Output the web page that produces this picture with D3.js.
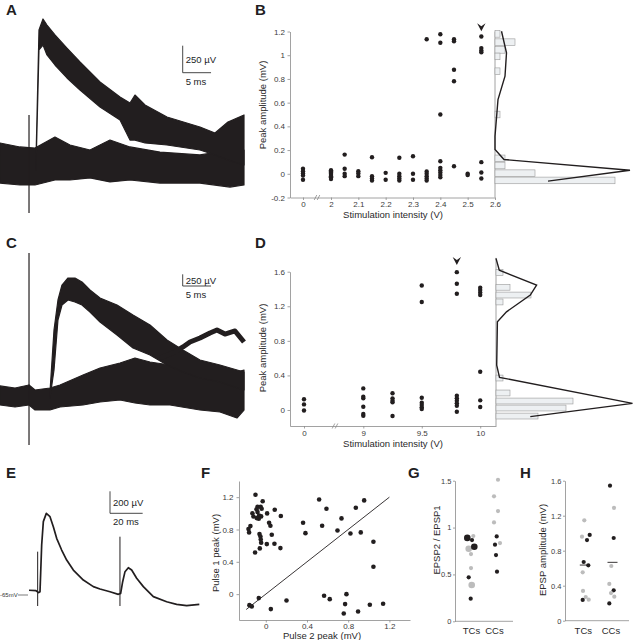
<!DOCTYPE html>
<html>
<head>
<meta charset="utf-8">
<script src="https://cdn.jsdelivr.net/npm/d3@7"></script>
<style>
  body { margin: 0; background: #fff; }
  text { font-family: "Liberation Sans", Arial, sans-serif; }
</style>
</head>
<body>
<svg id="fig" width="633" height="640"></svg>
<script>
// ---------- A: traces, [ms, low µV, high µV] envelopes ----------
const aLarge = [[6.35,-46,46],[6.88,1065,1250],[7.59,1111,1352],[8.29,1019,1296],[9.70,926,1204],
  [11.82,806,1083],[14.12,694,954],[17.65,537,769],[21.18,417,630],[22.94,231,574],[23.82,231,648],
  [25.59,204,556],[29.47,185,444],[35.29,139,352],[37.94,93,296],[40.23,46,398],[43.06,0,463]];
const aSmall = [[0,-167,204],[3.53,-185,167],[6.18,-185,157],[9.70,-139,259],[12.35,-139,185],
  [15.88,-120,139],[19.41,-157,231],[22.94,-139,167],[28.23,-167,120],[35.29,-167,93],
  [40.59,-204,139],[43.06,-185,139]];
const aStim = [5.12, -444, 463];

// ---------- C ----------
const cPre = [[0,-214,193],[2.65,-256,150],[5.12,-214,214]];
const cSmall = [[5.12,-214,214],[6.18,-321,107],[8.82,-321,150],[10.59,-256,214],[14.65,-214,427],
  [17.65,-150,577],[21.18,-107,684],[23.82,-171,791],[26.47,-214,705],[30,-214,641],[35.29,-321,577],
  [38.82,-363,534],[41.82,-491,491],[43.06,-321,534]];
const cLarge = [[8.82,-64,64],[9.53,534,1389],[10.23,1603,2030],[10.94,1923,2350],[12,2030,2500],
  [13.23,1987,2500],[14.47,1923,2415],[15.88,1774,2244],[17.65,1560,2073],[20.65,1282,1923],
  [23.47,1004,1709],[26.47,855,1496],[29.47,641,1175],[32.29,491,962],[35.29,363,748],
  [38.82,278,641],[43.06,107,491]];
const cLate = [[28.23,791],[30.88,919],[32.29,1026],[33.53,1132],[35.29,1218],[37.06,1325],
  [38.29,1389],[39.7,1303],[41.47,1368],[43.06,1132]];
const cStim = [5.12, -1068, 3034];

// ---------- E: paired pulse trace [ms, µV above -65 mV] ----------
const eTrace = [[0,43],[4.29,39],[5.92,21],[6.74,30],[7.76,455],[8.78,667],[10.61,742],[12.86,712],
  [14.9,621],[16.94,515],[20,409],[23.07,318],[27.15,227],[33.27,136],[39.4,76],[43.48,55],
  [49.6,30],[54.7,6],[56.13,15],[57.36,121],[58.79,212],[60.83,248],[62.87,227],[65.93,152],
  [70.02,76],[76.14,-15],[84.3,-61],[90.43,-85],[96.55,-97],[104.3,-85]];
const eStims = [[5.31,-100,394],[55.7,-100,530]];

// ---------- B ----------
const bStim = [0, 2, 2.05, 2.1, 2.15, 2.2, 2.25, 2.3, 2.35, 2.4, 2.45, 2.5, 2.55];
const bPeaks = [
  [0.042, 0.022, 0.002, -0.015, -0.05],
  [0.03, 0.02, 0.01, 0, -0.01, -0.02, -0.03, -0.045],
  [0.162, 0.042, 0, -0.02],
  [0.022, 0.003, -0.02],
  [0.14, -0.02, -0.04, -0.056],
  [0.008, -0.05],
  [0.135, 0.0, -0.02, -0.04, -0.056],
  [0.148, 0.0, -0.05],
  [1.135, 0.02, 0.0, -0.02, -0.04, -0.056],
  [1.177, 1.105, 0.50, 0.106, 0.05, 0.03, 0.01, -0.01, -0.03],
  [1.135, 1.118, 0.877, 0.78, 0.064],
  [0.0, -0.01],
  [1.158, 1.06, 1.04, 1.025, 0.098, 0.011, -0.04]
];
const bTicksX = [0, 2, 2.1, 2.2, 2.3, 2.4, 2.5, 2.6];
const bTicksY = [-0.2, 0, 0.2, 0.4, 0.6, 0.8, 1, 1.2];
const bHistMv = [1.18, 1.11, 1.045, 0.99, 0.865, 0.50, 0.13, 0.07, 0.005, -0.056];
const bHistN = [1, 4, 2, 1, 1, 1, 2, 2, 8, 24];
const bCurveMv = [1.202, 1.02, 0.823, 0.626, 0.317, 0.205, 0.12, 0.03, -0.062];
const bCurveN = [1.3, 2.3, 2.0, 0.6, 0, 0, 1.8, 27, 10.6];
const bArrow = [2.55, 1.27];

// ---------- D ----------
const dStim = [0, 9, 9.25, 9.5, 9.8, 10];
const dPeaks = [
  [0.125, 0.065, -0.005],
  [0.25, 0.154, 0.135, 0.038, -0.046, -0.066],
  [0.193, 0.135, 0.108, 0.089, -0.07],
  [1.44, 1.25, 0.142, 0.084, 0.058, 0.031, 0.012],
  [1.595, 1.46, 1.345, 0.165, 0.135, 0.108, 0.077, 0.05, -0.02],
  [1.414, 1.387, 1.36, 1.33, 0.443, 0.112, 0.035]
];
const dTicksX = [0, 9, 9.5, 10];
const dTicksY = [0, 0.4, 0.8, 1.2, 1.6];
const dHistMv = [1.59, 1.42, 1.33, 1.25, 0.37, 0.197, 0.104, 0.023, -0.07];
const dHistN = [1, 2, 5, 1, 1, 2, 11, 10, 6];
const dCurveMv = [1.754, 1.618, 1.445, 1.33, 1.136, 1.02, 0.52, 0.378, 0.077, -0.077];
const dCurveN = [0, 0.47, 5.8, 4.9, 1.5, 0.2, 0.1, 0.5, 19.5, 4.9];
const dArrow = [9.8, 1.77];

// ---------- F ----------
const fPulse2 = [-0.10,-0.03,-0.08,-0.09,-0.05,-0.04,-0.13,-0.12,-0.08,-0.065,-0.045,-0.068,-0.088,0.013,
  0.087,0.146,0.032,0.045,-0.149,-0.168,-0.162,-0.061,-0.052,-0.049,-0.045,0.058,0.01,0.084,-0.058,-0.104,
  0.142,0.518,0.589,0.874,0.955,0.362,0.547,0.385,0.696,0.735,0.822,0.922,1.045,1.045,-0.068,-0.159,
  -0.136,0.049,0.201,0.566,0.621,0.783,0.770,0.757,0.896,1.010,1.139];
const fPulse1 = [1.23,1.15,1.08,1.05,1.08,1.056,1.0,0.96,1.015,0.974,0.962,0.933,0.941,0.999,
  1.044,0.966,0.883,0.846,0.842,0.805,0.764,0.743,0.714,0.677,0.636,0.735,0.619,0.623,0.566,0.516,
  0.570,1.172,1.057,1.069,1.160,0.883,0.846,0.755,0.788,0.937,0.751,0.764,0.648,0.339,-0.049,-0.136,
  -0.152,-0.185,-0.078,-0.02,-0.062,0.0,-0.123,-0.239,-0.214,-0.132,-0.119];
const fUnity = [[-0.19, -0.19], [1.2, 1.2]];
const fTicks = [0, 0.4, 0.8, 1.2];

// ---------- G ----------
const groups = ["TCs", "CCs"];
const gTcs = [0.89, 0.867, 0.91, 0.774, 0.795, 0.717, 0.568, 0.469, 0.387, 0.241];
const gTcsKind = ["kb", "k", "g", "gb", "kb", "g", "g", "k", "gb", "k"];
const gTcsDx = [-4.2, 0.5, 1.8, -2.8, 2.8, -0.5, -0.5, -2.8, 0.2, -0.8];
const gCcs = [1.51, 1.333, 1.176, 1.055, 0.906, 0.835, 0.817, 0.707, 0.529];
const gCcsKind = ["g", "g", "g", "g", "k", "g", "k", "k", "k"];
const gCcsDx = [3.5, -0.5, 3.5, -0.5, 2.2, 5.5, 0.5, 1.5, 2.5];
const gTicks = [0, 0.5, 1, 1.5];

// ---------- H ----------
const hTcs = [1.147, 0.96, 0.98, 0.922, 0.671, 0.633, 0.553, 0.34, 0.271, 0.24, 0.237];
const hTcsKind = ["g", "g", "k", "k", "k", "k", "g", "g", "g", "g", "k"];
const hTcsDx = [1, -1.3, 6.4, 3.7, 0.4, 5, -0.6, -0.3, 2.4, 5.4, -0.6];
const hCcs = [1.543, 1.29, 0.945, 0.625, 0.42, 0.347, 0.316, 0.275, 0.198];
const hCcsKind = ["k", "g", "k", "g", "g", "k", "g", "g", "k"];
const hCcsDx = [-1, 3, 2.7, 0.3, -1.7, 2.7, 0, 3.3, -1.7];
const hMeans = [0.636, 0.667];
const hTicks = [0, 0.4, 0.8, 1.2, 1.6];

const svg = d3.select("#fig");
const ink = "#221e1f", grey = "#bcbcbc", axisCol = "#8a8a8a";
const fmt = d => String(+(+d).toFixed(2));

function panelLabel(t, x, y) {
  svg.append("text").attr("x", x).attr("y", y).attr("font-size", 15)
    .attr("font-weight", "bold").attr("fill", ink).text(t);
}
function styleAxis(g, size) {
  g.attr("font-family", "Liberation Sans, Arial, sans-serif").attr("font-size", size || 8);
  g.selectAll("path, line").attr("stroke", axisCol).attr("stroke-width", 0.8);
  g.selectAll("text").attr("fill", "#3c3c3c");
  return g;
}
function axisTitle(t, x, y, rotate) {
  svg.append("text")
    .attr("transform", `translate(${x},${y})` + (rotate ? " rotate(-90)" : ""))
    .attr("text-anchor", "middle").attr("font-size", 9.5).attr("fill", "#2a2a2a").text(t);
}
function band(data, x, y) {
  svg.append("path").datum(data)
    .attr("d", d3.area().x(d => x(d[0])).y0(d => y(d[1])).y1(d => y(d[2])))
    .attr("fill", ink).attr("stroke", ink).attr("stroke-width", 1.2).attr("stroke-linejoin", "round");
}
function stim(s, x, y, w) {
  svg.append("line").attr("x1", x(s[0])).attr("x2", x(s[0]))
    .attr("y1", y(s[1])).attr("y2", y(s[2])).attr("stroke", ink).attr("stroke-width", w);
}
function scaleBar(x, y, x0, y0, ms, uv) {
  const g = svg.append("g");
  const dx = x(ms) - x(0), dy = y(0) - y(uv);
  g.append("path").attr("d", `M${x0},${y0 - dy}V${y0}H${x0 + dx}`)
    .attr("fill", "none").attr("stroke", "#333").attr("stroke-width", 0.9);
  g.append("text").attr("x", x0 + 3).attr("y", y0 - dy / 2 + 3.5).attr("font-size", 9.5)
    .attr("fill", ink).text(uv + " \u00b5V");
  g.append("text").attr("x", x0 + 3).attr("y", y0 + 12).attr("font-size", 9.5)
    .attr("fill", ink).text(ms + " ms");
}

// ===== A =====
panelLabel("A", 6, 15);
const xA = d3.scaleLinear().domain([0, 43.06]).range([0, 244]);
const yA = d3.scaleLinear().domain([0, 1000]).range([165, 57]);
band(aSmall, xA, yA);
band(aLarge, xA, yA);
stim(aStim, xA, yA, 1.2);
scaleBar(xA, yA, 182.7, 72.7, 5, 250);

// ===== C =====
panelLabel("C", 6, 248);
const xC = d3.scaleLinear().domain([0, 43.06]).range([0, 244]);
const yC = d3.scaleLinear().domain([0, 1000]).range([395, 348.2]);
band(cPre, xC, yC);
band(cSmall, xC, yC);
band(cLarge, xC, yC);
svg.append("path").datum(cLate)
  .attr("d", d3.line().x(d => xC(d[0])).y(d => yC(d[1])))
  .attr("fill", "none").attr("stroke", ink).attr("stroke-width", 5).attr("stroke-linejoin", "round");
stim(cStim, xC, yC, 1.2);
scaleBar(xC, yC, 182.7, 286, 5, 250);

// ===== E =====
panelLabel("E", 6, 478);
const xE = d3.scaleLinear().domain([0, 100]).range([29, 192.3]);
const yE = d3.scaleLinear().domain([0, 1000]).range([595, 485]);
svg.append("path").datum(eTrace)
  .attr("d", d3.line().x(d => xE(d[0])).y(d => yE(d[1])))
  .attr("fill", "none").attr("stroke", ink).attr("stroke-width", 1.7).attr("stroke-linejoin", "round");
eStims.forEach(s => stim(s, xE, yE, 1));
svg.append("line").attr("x1", 18).attr("x2", 28).attr("y1", yE(0)).attr("y2", yE(0))
  .attr("stroke", "#444").attr("stroke-width", 0.7);
svg.append("text").attr("x", 0).attr("y", yE(0) + 2).attr("font-size", 6).attr("fill", "#333").text("-65mV");
scaleBar(xE, yE, 110, 513.3, 20, 200);

// ===== scatter + histogram panels (B, D) =====
function stimPanel(o) {
  panelLabel(o.label, 255, o.labelY);
  const x = o.x, y = o.y;
  styleAxis(svg.append("g").attr("transform", `translate(0,${y.range()[0]})`)
    .call(d3.axisBottom(x).tickValues(o.ticksX).tickSize(2.5).tickSizeOuter(0).tickPadding(1.5).tickFormat(fmt)));
  styleAxis(svg.append("g").attr("transform", `translate(${x.range()[0]},0)`)
    .call(d3.axisLeft(y).tickValues(o.ticksY).tickSize(2.5).tickSizeOuter(0).tickPadding(2.5).tickFormat(fmt)));
  // axis break
  const bx = o.breakX, by = y.range()[0];
  [-1.5, 1.5].forEach(off => svg.append("line")
    .attr("x1", bx + off - 1.3).attr("y1", by + 2.5).attr("x2", bx + off + 1.3).attr("y2", by - 2.5)
    .attr("stroke", axisCol).attr("stroke-width", 0.8));

  o.stims.forEach((s, i) => {
    svg.append("g").selectAll("circle").data(o.peaks[i]).join("circle")
      .attr("cx", x(s)).attr("cy", d => y(d)).attr("r", 2.2).attr("fill", ink);
  });

  // histogram of peaks
  const h = o.h;
  svg.append("line").attr("x1", h(0)).attr("x2", h(0)).attr("y1", y(o.histTop)).attr("y2", y.range()[0])
    .attr("stroke", axisCol).attr("stroke-width", 0.8);
  svg.append("g").selectAll("rect").data(o.histMv).join("rect")
    .attr("x", h(0)).attr("y", d => y(d + o.binH / 2))
    .attr("width", (d, i) => h(o.histN[i]) - h(0))
    .attr("height", d => y(d - o.binH / 2) - y(d + o.binH / 2))
    .attr("fill", "#edf0f2").attr("stroke", "#999").attr("stroke-width", 0.6);
  svg.append("path").datum(d3.zip(o.curveN, o.curveMv))
    .attr("d", d3.line().x(d => h(d[0])).y(d => y(d[1])))
    .attr("fill", "none").attr("stroke", ink).attr("stroke-width", 1.4);

  // arrowhead
  const ax = x(o.arrow[0]), ay = y(o.arrow[1]);
  svg.append("path").attr("d", `M${ax},${ay + 8}L${ax - 4.2},${ay}L${ax},${ay + 3}L${ax + 4.2},${ay}Z`)
    .attr("fill", ink);

  axisTitle("Peak amplitude (mV)", 266, o.yTitle, true);
  axisTitle("Stimulation intensity (V)", 393, o.xTitle, false);
}

stimPanel({
  label: "B", labelY: 15,
  x: d3.scaleLinear().domain([-0.45, 0, 2, 2.6]).range([290, 303, 331, 495]),
  y: d3.scaleLinear().domain([-0.2, 1.2]).range([197.5, 31.5]),
  h: d3.scaleLinear().domain([0, 25]).range([495, 620]),
  ticksX: bTicksX, ticksY: bTicksY, breakX: 317,
  stims: bStim, peaks: bPeaks,
  histMv: bHistMv, histN: bHistN, binH: 0.056, histTop: 1.2,
  curveMv: bCurveMv, curveN: bCurveN, arrow: bArrow,
  yTitle: 105, xTitle: 218
});

stimPanel({
  label: "D", labelY: 248,
  x: d3.scaleLinear().domain([-0.25, 0, 9, 10.135]).range([290, 304, 363.3, 496]),
  y: d3.scaleLinear().domain([-0.185, 1.6]).range([426, 271.7]),
  h: d3.scaleLinear().domain([0, 20]).range([496, 636]),
  ticksX: dTicksX, ticksY: dTicksY, breakX: 335,
  stims: dStim, peaks: dPeaks,
  histMv: dHistMv, histN: dHistN, binH: 0.068, histTop: 1.76,
  curveMv: dCurveMv, curveN: dCurveN, arrow: dArrow,
  yTitle: 348, xTitle: 447
});

// ===== F =====
panelLabel("F", 201, 478);
const xF = d3.scaleLinear().domain([-0.26, 1.4]).range([239, 410]);
const yF = d3.scaleLinear().domain([-0.32, 1.4]).range([620, 481]);
styleAxis(svg.append("g").attr("transform", "translate(0,620)")
  .call(d3.axisBottom(xF).tickValues(fTicks).tickSize(2.5).tickSizeOuter(0).tickPadding(1).tickFormat(fmt)));
styleAxis(svg.append("g").attr("transform", "translate(239,0)")
  .call(d3.axisLeft(yF).tickValues(fTicks).tickSize(2.5).tickSizeOuter(0).tickPadding(3).tickFormat(fmt)));
svg.append("path").datum(fUnity)
  .attr("d", d3.line().x(d => xF(d[0])).y(d => yF(d[1])))
  .attr("stroke", ink).attr("stroke-width", 0.9);
svg.append("g").selectAll("circle").data(d3.zip(fPulse2, fPulse1)).join("circle")
  .attr("cx", d => xF(d[0])).attr("cy", d => yF(d[1])).attr("r", 2.3).attr("fill", ink);
axisTitle("Pulse 1 peak (mV)", 219, 553, true);
axisTitle("Pulse 2 peak (mV)", 322, 639, false);

// ===== G, H: grouped dot plots =====
function dotPanel(o) {
  panelLabel(o.label, o.labelX, 478);
  const y = o.y, x = o.x;
  styleAxis(svg.append("g").attr("transform", `translate(${o.axisX},0)`)
    .call(d3.axisLeft(y).tickValues(o.ticks).tickSize(2).tickSizeOuter(0).tickPadding(1.5).tickFormat(fmt)), 7.5);
  svg.append("line").attr("x1", o.axisX).attr("x2", o.axisEnd).attr("y1", y.range()[0]).attr("y2", y.range()[0])
    .attr("stroke", axisCol).attr("stroke-width", 0.8);
  groups.forEach((gname, gi) => {
    svg.append("text").attr("x", x(gname)).attr("y", y.range()[0] + 13).attr("text-anchor", "middle")
      .attr("font-size", 9.5).attr("fill", "#2a2a2a").text(gname);
    const vals = o.vals[gi], kinds = o.kinds[gi], dx = o.dx[gi];
    svg.append("g").selectAll("circle").data(vals).join("circle")
      .attr("cx", (d, i) => x(gname) + dx[i]).attr("cy", d => y(d))
      .attr("r", (d, i) => kinds[i].includes("b") ? 3.3 : 2.1)
      .attr("fill", (d, i) => kinds[i][0] === "k" ? ink : grey);
  });
  if (o.means) o.means.forEach((m, gi) => {
    svg.append("line").attr("x1", x(groups[gi]) + o.meanOff - 5).attr("x2", x(groups[gi]) + o.meanOff + 5)
      .attr("y1", y(m)).attr("y2", y(m)).attr("stroke", ink).attr("stroke-width", 0.9);
  });
  axisTitle(o.title, o.titleX, o.titleY, true);
}

dotPanel({
  label: "G", labelX: 408,
  y: d3.scaleLinear().domain([0, 1.5]).range([621.3, 480.7]),
  x: d3.scalePoint().domain(groups).range([471.5, 494.5]),
  axisX: 455, axisEnd: 513, ticks: gTicks,
  vals: [gTcs, gCcs], kinds: [gTcsKind, gCcsKind], dx: [gTcsDx, gCcsDx],
  title: "EPSP2 / EPSP1", titleX: 440, titleY: 540
});

dotPanel({
  label: "H", labelX: 520,
  y: d3.scaleLinear().domain([0, 1.6]).range([620.7, 480.7]),
  x: d3.scalePoint().domain(groups).range([583.3, 611]),
  axisX: 565, axisEnd: 629, ticks: hTicks,
  vals: [hTcs, hCcs], kinds: [hTcsKind, hCcsKind], dx: [hTcsDx, hCcsDx],
  means: hMeans, meanOff: 1.5,
  title: "EPSP amplitude (mV)", titleX: 546, titleY: 550
});
</script>
</body>
</html>
